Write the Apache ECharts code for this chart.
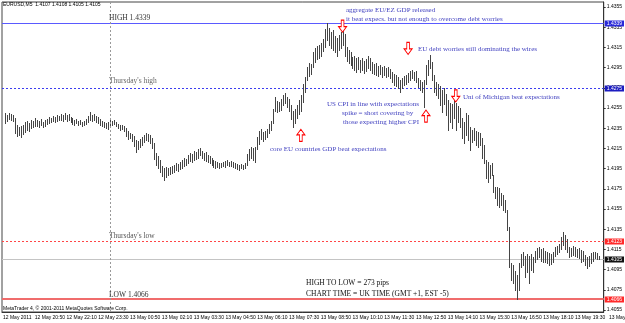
<!DOCTYPE html>
<html>
<head>
<meta charset="utf-8">
<script src="https://cdn.jsdelivr.net/npm/echarts@6/dist/echarts.min.js"></script>
<style>
  html, body { margin: 0; padding: 0; background: #fff; }
  #chart { width: 625px; height: 323px; }
</style>
</head>
<body>
<div id="chart"></div>
<script>
// EURUSD M5, 12 May 19:35 -> 13 May 20:30, one entry per bar
const highs = [
  1.4250,1.4248,1.4250,1.4249,1.4248,1.4245,1.4238,1.4236,1.4237,1.4238,
  1.4241,1.4242,1.4240,1.4243,1.4242,1.4245,1.4243,1.4242,1.4244,1.4241,
  1.4243,1.4244,1.4246,1.4245,1.4247,1.4246,1.4248,1.4247,1.4249,1.4248,
  1.4250,1.4248,1.4249,1.4246,1.4245,1.4243,1.4244,1.4242,1.4243,1.4241,
  1.4242,1.4244,1.4247,1.4251,1.4248,1.4249,1.4247,1.4246,1.4244,1.4242,
  1.4241,1.4240,1.4241,1.4243,1.4242,1.4243,1.4241,1.4239,1.4238,1.4238,
  1.4237,1.4235,1.4232,1.4230,1.4229,1.4227,1.4223,1.4222,1.4224,1.4226,
  1.4228,1.4230,1.4229,1.4228,1.4225,1.4220,1.4210,1.4207,1.4204,1.4198,
  1.4196,1.4197,1.4196,1.4197,1.4198,1.4199,1.4201,1.4200,1.4202,1.4204,
  1.4206,1.4205,1.4208,1.4210,1.4209,1.4212,1.4211,1.4214,1.4215,1.4212,
  1.4210,1.4211,1.4208,1.4207,1.4206,1.4204,1.4203,1.4202,1.4201,1.4201,
  1.4202,1.4203,1.4204,1.4202,1.4203,1.4202,1.4201,1.4200,1.4199,1.4200,
  1.4199,1.4201,1.4209,1.4214,1.4216,1.4215,1.4216,1.4226,1.4232,1.4234,
  1.4231,1.4232,1.4234,1.4239,1.4242,1.4254,1.4266,1.4262,1.4261,1.4264,
  1.4268,1.4270,1.4266,1.4264,1.4258,1.4252,1.4254,1.4258,1.4263,1.4268,
  1.4279,1.4286,1.4296,1.4300,1.4299,1.4310,1.4314,1.4316,1.4317,1.4319,
  1.4323,1.4333,1.4339,1.4334,1.4330,1.4332,1.4326,1.4324,1.4327,1.4330,
  1.4332,1.4328,1.4315,1.4312,1.4310,1.4306,1.4307,1.4305,1.4306,1.4303,
  1.4305,1.4302,1.4304,1.4307,1.4305,1.4301,1.4299,1.4300,1.4297,1.4298,
  1.4296,1.4297,1.4295,1.4296,1.4294,1.4291,1.4289,1.4288,1.4286,1.4283,
  1.4285,1.4287,1.4288,1.4290,1.4292,1.4293,1.4291,1.4292,1.4285,1.4283,
  1.4281,1.4283,1.4298,1.4303,1.4308,1.4301,1.4288,1.4281,1.4279,1.4277,
  1.4273,1.4275,1.4269,1.4263,1.4260,1.4259,1.4263,1.4260,1.4257,1.4255,
  1.4245,1.4241,1.4250,1.4248,1.4236,1.4233,1.4235,1.4232,1.4231,1.4230,
  1.4225,1.4218,1.4204,1.4202,1.4199,1.4201,1.4189,1.4177,1.4177,1.4176,
  1.4171,1.4169,1.4164,1.4154,1.4137,1.4102,1.4100,1.4094,1.4090,1.4102,
  1.4110,1.4112,1.4108,1.4110,1.4108,1.4110,1.4107,1.4113,1.4116,1.4117,
  1.4115,1.4116,1.4113,1.4112,1.4111,1.4110,1.4112,1.4117,1.4118,1.4120,
  1.4127,1.4132,1.4129,1.4125,1.4117,1.4116,1.4118,1.4117,1.4115,1.4116,
  1.4114,1.4113,1.4109,1.4107,1.4108,1.4111,1.4112,1.4112,1.4111,1.4108
];
const lows = [
  1.4240,1.4242,1.4244,1.4243,1.4242,1.4230,1.4227,1.4228,1.4226,1.4229,
  1.4231,1.4233,1.4232,1.4235,1.4236,1.4237,1.4237,1.4236,1.4238,1.4236,
  1.4237,1.4239,1.4240,1.4241,1.4242,1.4241,1.4242,1.4243,1.4243,1.4242,
  1.4244,1.4242,1.4243,1.4241,1.4239,1.4238,1.4240,1.4238,1.4239,1.4237,
  1.4238,1.4239,1.4241,1.4243,1.4242,1.4243,1.4241,1.4240,1.4238,1.4237,
  1.4236,1.4235,1.4234,1.4237,1.4238,1.4239,1.4237,1.4235,1.4233,1.4234,
  1.4232,1.4227,1.4224,1.4225,1.4222,1.4217,1.4211,1.4214,1.4216,1.4218,
  1.4221,1.4223,1.4222,1.4220,1.4215,1.4205,1.4199,1.4196,1.4192,1.4188,
  1.4184,1.4187,1.4189,1.4190,1.4191,1.4192,1.4194,1.4193,1.4195,1.4196,
  1.4198,1.4199,1.4201,1.4203,1.4202,1.4204,1.4205,1.4206,1.4208,1.4206,
  1.4204,1.4203,1.4202,1.4201,1.4199,1.4197,1.4196,1.4197,1.4196,1.4197,
  1.4198,1.4197,1.4199,1.4198,1.4198,1.4197,1.4196,1.4195,1.4194,1.4196,
  1.4195,1.4196,1.4199,1.4204,1.4206,1.4204,1.4202,1.4214,1.4219,1.4224,
  1.4222,1.4224,1.4226,1.4230,1.4233,1.4240,1.4252,1.4251,1.4252,1.4253,
  1.4258,1.4260,1.4256,1.4252,1.4244,1.4236,1.4240,1.4245,1.4249,1.4252,
  1.4261,1.4271,1.4283,1.4287,1.4289,1.4296,1.4301,1.4304,1.4305,1.4307,
  1.4311,1.4315,1.4322,1.4317,1.4314,1.4312,1.4310,1.4307,1.4312,1.4314,
  1.4317,1.4307,1.4302,1.4300,1.4298,1.4295,1.4293,1.4291,1.4294,1.4291,
  1.4293,1.4290,1.4292,1.4295,1.4293,1.4290,1.4289,1.4288,1.4287,1.4289,
  1.4286,1.4288,1.4286,1.4287,1.4285,1.4281,1.4278,1.4277,1.4275,1.4271,
  1.4275,1.4278,1.4279,1.4281,1.4283,1.4285,1.4283,1.4281,1.4276,1.4273,
  1.4271,1.4256,1.4279,1.4288,1.4295,1.4283,1.4271,1.4268,1.4265,1.4258,
  1.4251,1.4259,1.4248,1.4233,1.4241,1.4235,1.4245,1.4233,1.4241,1.4236,
  1.4225,1.4220,1.4228,1.4223,1.4213,1.4221,1.4223,1.4218,1.4216,1.4218,
  1.4206,1.4201,1.4186,1.4182,1.4186,1.4189,1.4172,1.4166,1.4159,1.4157,
  1.4159,1.4154,1.4152,1.4134,1.4098,1.4085,1.4082,1.4075,1.4066,1.4075,
  1.4098,1.4100,1.4088,1.4093,1.4082,1.4095,1.4093,1.4103,1.4105,1.4107,
  1.4104,1.4103,1.4103,1.4102,1.4100,1.4101,1.4103,1.4108,1.4110,1.4112,
  1.4115,1.4119,1.4115,1.4112,1.4107,1.4108,1.4109,1.4108,1.4107,1.4106,
  1.4103,1.4104,1.4100,1.4097,1.4099,1.4102,1.4104,1.4106,1.4105,1.4105
];

// time axis labels, one every 16 bars (80 minutes)
const timeLabels = [
  '12 May 2011', '12 May 20:50', '12 May 22:10', '12 May 23:30',
  '13 May 00:50', '13 May 02:10', '13 May 03:30', '13 May 04:50',
  '13 May 06:10', '13 May 07:30', '13 May 08:50', '13 May 10:10',
  '13 May 11:30', '13 May 12:50', '13 May 14:10', '13 May 15:30',
  '13 May 16:50', '13 May 18:10', '13 May 19:30', '13 May 20:50'
];
const priceTicks = [
  1.4055, 1.4075, 1.4095, 1.4115, 1.4135, 1.4155, 1.4175, 1.4195,
  1.4215, 1.4235, 1.4255, 1.4275, 1.4295, 1.4315, 1.4335, 1.4355
];

// horizontal price levels: day high, Thursday high, Thursday low, last, day low
const levels = [1.4339, 1.4275, 1.4123, 1.4105, 1.4066];
const sessionBar = 54; // 13 May 00:00

// news arrows: [bar slot, price, direction]
const arrows = [
  [171, 1.4336, 'down'],
  [204, 1.4314, 'down'],
  [228, 1.4267, 'down'],
  [213, 1.4247, 'up'],
  [150, 1.4228, 'up']
];

// look of each level line and its price box
const levelStyles = [
  { color: 'rgb(90,90,255)', dash: [], width: 1, box: '#2a2ad8' },
  { color: 'rgb(60,60,240)', dash: [2, 2], width: 1, box: '#1c1cc0' },
  { color: 'rgb(255,70,70)', dash: [2, 2], width: 1, box: '#ff2a2a' },
  { color: 'rgb(196,196,196)', dash: [], width: 1, box: '#111111' },
  { color: 'rgb(240,108,108)', dash: [], width: 2, box: '#ff2a2a' }
];

const SLOTS = 303;
const categories = [];
for (let c = 0; c < SLOTS; c++) categories.push(String(c));

const bars = highs.map((h, i) => [i + 1, h, lows[i]]);

const serif = '"Liberation Serif", "DejaVu Serif", serif';
const sans = '"Liberation Sans", Arial, sans-serif';
const noteColor = '#3f3fbf';

const downArrow = 'path://M3,0 L6,0 L6,7 L9,7 L4.5,13 L0,7 L3,7 Z';
const upArrow = 'path://M3,13 L6,13 L6,6 L9,6 L4.5,0 L0,6 L3,6 Z';

function note(text, x, y, color, size, family) {
  return {
    type: 'text', x: x, y: y, silent: true, z: 50,
    style: {
      text: text, fill: color || noteColor,
      font: (size || 7) + 'px ' + (family || serif),
      verticalAlign: 'middle'
    }
  };
}

const chart = echarts.init(document.getElementById('chart'));

const option = {
  animation: false,
  backgroundColor: '#fff',
  grid: {
    left: 0, right: 19, top: 2, bottom: 11,
    show: true, borderColor: '#444', borderWidth: 1
  },
  xAxis: {
    type: 'category',
    data: categories,
    boundaryGap: true,
    axisLine: { lineStyle: { color: '#333' } },
    axisTick: {
      length: 2, lineStyle: { color: '#333' },
      interval: (idx) => idx % 16 === 0
    },
    axisLabel: {
      interval: (idx) => idx % 16 === 0,
      formatter: (v, idx) => timeLabels[idx / 16] || '',
      align: 'left', margin: 3,
      fontSize: 5, color: '#000', fontFamily: sans
    },
    splitLine: { show: false }
  },
  yAxis: {
    type: 'value',
    position: 'right',
    min: 1.4053,
    max: 1.4360,
    axisLine: { show: true, lineStyle: { color: '#333' } },
    axisTick: {
      show: true, length: 2, customValues: priceTicks,
      lineStyle: { color: '#333' }
    },
    axisLabel: {
      customValues: priceTicks,
      formatter: (v) => v.toFixed(4),
      margin: 3, fontSize: 5, color: '#000', fontFamily: sans
    },
    splitLine: { show: false }
  },
  series: [
    {
      name: 'levels',
      type: 'custom',
      data: levels.map((v) => [0, v]),
      encode: { x: 0, y: 1 },
      z: 2,
      silent: true,
      clip: false,
      renderItem: function (params, api) {
        const cs = params.coordSys;
        const st = levelStyles[params.dataIndex];
        const py = Math.round(api.coord([0, api.value(1)])[1]);
        const y = st.width === 1 ? py + 0.5 : py;
        return {
          type: 'group',
          children: [{
            type: 'rect',
            shape: { x: cs.x, y: y - st.width / 2, width: cs.width, height: st.width },
            style: { fill: st.dash.length ? 'transparent' : st.color }
          }, {
            type: 'line',
            invisible: !st.dash.length,
            shape: { x1: cs.x, y1: y, x2: cs.x + cs.width, y2: y },
            style: { stroke: st.color, lineWidth: st.width, lineDash: st.dash.length ? st.dash : null }
          }, {
            type: 'text',
            x: cs.x + cs.width + 1,
            y: py + 0.5,
            z2: 10,
            style: {
              text: api.value(1).toFixed(4),
              fill: '#fff',
              backgroundColor: st.box,
              padding: [1, 2, 0, 2],
              font: '5px ' + sans,
              verticalAlign: 'middle'
            }
          }]
        };
      }
    },
    {
      name: 'EURUSD',
      type: 'custom',
      data: bars,
      encode: { x: 0, y: [1, 2] },
      z: 3,
      renderItem: function (params, api) {
        const top = api.coord([api.value(0), api.value(1)]);
        const bot = api.coord([api.value(0), api.value(2)]);
        const x = Math.round(top[0]) + 0.5;
        return {
          type: 'line',
          shape: { x1: x, y1: Math.round(top[1]), x2: x, y2: Math.round(bot[1]) + 1 },
          style: { stroke: '#454545', lineWidth: 1 }
        };
      }
    },
    {
      name: 'objects',
      type: 'line',
      data: [],
      z: 4,
      markLine: {
        silent: true,
        symbol: 'none',
        animation: false,
        data: [{
          xAxis: sessionBar,
          lineStyle: { color: '#999', type: [2, 2], width: 1 },
          label: { show: false }
        }]
      },
      markPoint: {
        silent: true,
        animation: false,
        precision: 4,
        data: arrows.map((a) => ({
          coord: [a[0], a[1]],
          symbol: a[2] === 'down' ? downArrow : upArrow,
          symbolSize: [8, 12],
          itemStyle: { color: '#fff', borderColor: '#ff0000', borderWidth: 1 },
          label: { show: false }
        }))
      }
    }
  ],
  graphic: [
    note('EURUSD,M5  1.4107 1.4108 1.4105 1.4105', 3, 5, '#000', 5, sans),
    note('MetaTrader 4, \u00a9 2001-2011 MetaQuotes Software Corp.', 3, 309, '#000', 5, sans),
    note('13 May 20:50', 609, 318, '#000', 5, sans),
    note('HIGH 1.4339', 109, 18, '#333', 7.5),
    note("Thursday's high", 109, 81, '#666', 7.5),
    note("Thursday's low", 109, 236, '#555', 7.5),
    note('LOW 1.4066', 109, 295, '#333', 7.5),
    note('HIGH TO LOW = 273 pips', 306, 283, '#111', 7.5),
    note('CHART TIME = UK TIME (GMT +1, EST -5)', 306, 294, '#111', 7.5),
    note('aggregate EU/EZ GDP released', 346, 10),
    note('it beat expecs. but not enough to overcome debt worries', 346, 19.5),
    note('EU debt worries still dominating the wires', 418, 49.5),
    note('Uni of Michigan beat expectations', 463, 97.5),
    note('US CPI in line with expectations', 327, 104.5),
    note('spike = short covering by', 342, 113.5),
    note('those expecting higher CPI', 343, 122.5),
    note('core EU countries GDP beat expectations', 270, 149)
  ]
};

chart.setOption(option);
</script>
</body>
</html>
